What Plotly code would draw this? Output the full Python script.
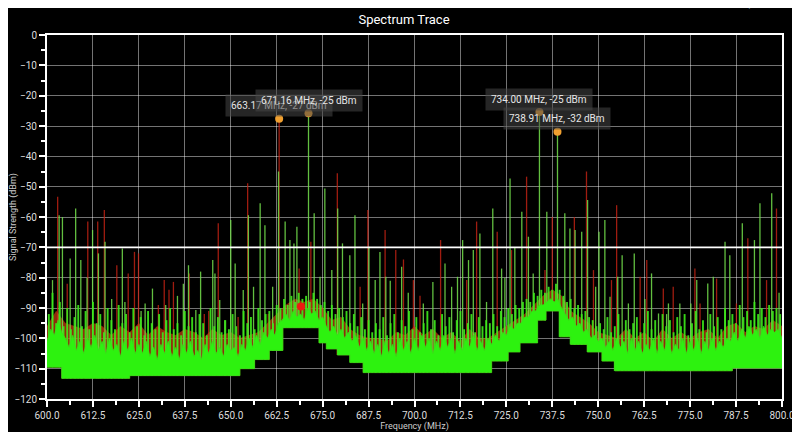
import numpy as np
import plotly.graph_objects as go

# ---------------- data ----------------
# stepped noise floor: edges (MHz) and level between consecutive edges (dBm)
floor_edges = [600.0, 604.0, 622.5, 652.5, 656.5, 660.5, 664.2, 674.0, 676.0, 679.0,
               682.5, 686.0, 721.0, 725.5, 728.7, 733.5, 735.8, 739.5, 742.5, 747.0,
               751.0, 754.5, 786.5, 800.0]
floor_levels = [-109.5, -113.2, -112.3, -110.0, -107.0, -104.0, -96.5, -101.5, -103.5,
                -105.5, -108.0, -111.3, -107.5, -104.5, -101.5, -94.0, -91.0, -99.5,
                -102.0, -104.5, -107.5, -110.7, -109.8]

# green (live) trace band top, 1 MHz steps 600..800
green_f = list(range(600, 801))
green_db = [
    -101, -97, -99, -94, -98, -100, -103, -99, -104, -101,      # 600-609
    -105, -100, -103, -99, -104, -101, -105, -100, -104, -102,  # 610-619
    -106, -101, -104, -100, -105, -102, -105, -101, -106, -103, # 620-629
    -107, -102, -105, -101, -106, -103, -107, -102, -105, -101, # 630-639
    -106, -104, -107, -102, -105, -101, -105, -103, -106, -102, # 640-649
    -104, -103, -106, -102, -104, -100, -103, -99, -102, -98,   # 650-659
    -100, -97, -99, -95, -94, -92, -94, -91, -93, -92,          # 660-669
    -94, -90, -92, -91, -94, -93, -96, -98, -96, -99,           # 670-679
    -97, -100, -98, -101, -99, -103, -100, -104, -101, -105,    # 680-689
    -102, -106, -101, -105, -102, -106, -100, -104, -101, -105, # 690-699
    -100, -104, -99, -103, -100, -105, -101, -104, -99, -103,   # 700-709
    -100, -105, -101, -104, -100, -103, -99, -104, -101, -104,  # 710-719
    -100, -102, -99, -101, -98, -99, -96, -97, -95, -95,        # 720-729
    -93, -93, -91, -91, -89, -89, -88, -87, -88, -87,           # 730-739
    -90, -92, -94, -93, -96, -95, -98, -97, -100, -99,          # 740-749
    -101, -100, -103, -101, -104, -100, -103, -101, -105, -100, # 750-759
    -104, -101, -105, -102, -104, -100, -105, -101, -104, -100, # 760-769
    -105, -102, -104, -100, -105, -101, -104, -100, -105, -101, # 770-779
    -104, -100, -104, -101, -103, -100, -101, -98, -101, -97,   # 780-789
    -100, -96, -99, -97, -100, -96, -99, -97, -98, -97,         # 790-799
    -100,                                                       # 800
]

# short "grass" peaks of the green trace, at 600.5, 601.5, ... 799.5 MHz
grass_f = [600.5 + i for i in range(200)]
grass_db = [
    -92, -85, -95, -88, -96, -90, -97, -93, -89, -96,   # 600.5-609.5
    -91, -97, -88, -95, -92, -98, -90, -94, -97, -89,   # 610.5-619.5
    -95, -92, -98, -90, -96, -93, -99, -91, -95, -97,   # 620.5-629.5
    -92, -98, -94, -90, -97, -95, -99, -91, -96, -93,   # 630.5-639.5
    -98, -92, -95, -99, -90, -96, -93, -98, -94, -97,   # 640.5-649.5
    -92, -96, -99, -91, -95, -93, -97, -90, -94, -92,   # 650.5-659.5
    -91, -95, -89, -90, -87, -89, -86, -88, -85, -87,   # 660.5-669.5
    -86, -88, -85, -87, -89, -88, -91, -89, -92, -90,   # 670.5-679.5
    -93, -91, -95, -92, -96, -93, -97, -94, -98, -95,   # 680.5-689.5
    -97, -93, -99, -95, -92, -98, -94, -96, -91, -97,   # 690.5-699.5
    -93, -98, -95, -91, -97, -94, -99, -92, -96, -93,   # 700.5-709.5
    -98, -94, -91, -97, -95, -92, -98, -93, -96, -94,   # 710.5-719.5
    -95, -92, -96, -91, -93, -90, -92, -89, -90, -88,   # 720.5-729.5
    -87, -88, -85, -86, -84, -85, -83, -84, -82, -84,   # 730.5-739.5
    -86, -88, -87, -90, -89, -92, -91, -93, -94, -96,   # 740.5-749.5
    -95, -97, -93, -98, -96, -92, -99, -94, -97, -95,   # 750.5-759.5
    -93, -98, -95, -91, -97, -94, -99, -92, -96, -94,   # 760.5-769.5
    -98, -93, -96, -92, -99, -95, -91, -97, -94, -98,   # 770.5-779.5
    -92, -96, -93, -97, -90, -94, -92, -95, -89, -93,   # 780.5-789.5
    -91, -94, -88, -92, -90, -93, -89, -91, -90, -92,   # 790.5-799.5
]

# red (max hold) band top, 2.5 MHz steps 600..800
red_f = [600 + 2.5 * i for i in range(81)]
red_db = [
    -96, -91, -95, -96, -97, -95, -96, -99, -96, -98,
    -95, -99, -96, -98, -99, -97, -98, -100, -97, -99,
    -98, -100, -99, -98, -95, -92, -89, -87, -88, -87,
    -90, -94, -93, -97, -99, -100, -100, -101, -98, -99,
    -96, -99, -97, -100, -98, -101, -97, -100, -100, -98,
    -96, -94, -92, -89, -86, -84, -86, -91, -93, -95,
    -98, -99, -100, -97, -100, -98, -101, -97, -100, -98,
    -100, -98, -97, -100, -96, -95, -98, -96, -97, -94,
    -96,
]

# tall spikes of the live (green) trace
gspike_f = [601.5, 603.3, 604.2, 606.3, 607.8, 609.2, 610.9, 612.4, 614.0, 615.8,
            617.6, 620.5, 621.2, 625.6, 626.7, 628.7, 632.3, 635.5, 637.1, 638.5,
            640.5, 641.8, 645.1, 645.7, 647.0, 648.4, 650.0, 651.2, 653.4, 654.8,
            656.2, 658.0, 659.3, 661.4, 663.0, 664.8, 666.1, 667.2, 668.0, 671.16,
            672.7, 674.3, 675.6, 677.5, 679.1, 680.4, 682.4, 683.8, 685.9, 687.6,
            689.3, 690.6, 692.2, 693.4, 696.5, 698.3, 702.4, 705.0, 708.3, 710.1,
            711.7, 713.1, 714.7, 716.0, 717.8, 719.6, 721.3, 723.7, 724.6, 726.0,
            727.3, 729.2, 731.0, 732.3, 734.0, 736.0, 738.91, 740.9, 742.3, 743.7,
            745.5, 747.1, 749.3, 750.2, 751.8, 753.2, 755.3, 756.5, 758.2, 759.8,
            762.7, 764.5, 766.4, 768.6, 769.1, 772.2, 775.2, 776.8, 779.8, 781.3,
            784.5, 785.8, 789.2, 792.5, 794.0, 797.2, 799.2]
gspike_db = [-80.8, -59.4, -60.0, -73.7, -57.2, -74.2, -80.0, -64.3, -72.0, -68.2,
             -87.0, -70.4, -88.0, -91.0, -88.5, -83.6, -89.0, -86.0, -82.0, -75.9,
             -90.7, -78.0, -74.2, -78.6, -87.4, -94.0, -61.0, -75.3, -84.1, -59.4,
             -83.0, -55.5, -62.7, -83.0, -45.0, -61.5, -67.6, -68.7, -63.2, -25.4,
             -58.8, -79.7, -50.6, -77.5, -57.2, -68.7, -72.6, -59.4, -88.5, -69.8,
             -80.8, -71.5, -79.7, -81.0, -76.4, -85.0, -88.5, -81.4, -75.3, -83.0,
             -79.7, -67.6, -74.2, -70.9, -65.4, -88.0, -57.2, -77.0, -80.0, -47.3,
             -70.0, -58.3, -66.5, -78.6, -25.3, -58.3, -31.9, -58.8, -63.8, -64.3,
             -64.9, -54.4, -83.0, -64.9, -61.0, -86.3, -79.7, -72.6, -88.5, -72.0,
             -87.0, -78.6, -91.8, -92.0, -88.5, -88.5, -88.5, -80.8, -81.9, -79.7,
             -68.2, -72.6, -62.1, -67.6, -55.5, -52.2, -85.0]

# tall spikes of the max-hold (red) trace
rspike_f = [602.9, 605.5, 611.1, 613.8, 615.6, 619.0, 622.1, 623.8, 624.9, 630.3,
            631.9, 633.2, 634.4, 638.7, 642.8, 644.0, 646.6, 652.0, 654.6, 660.2,
            663.17, 668.6, 671.8, 679.0, 685.2, 687.3, 692.0, 694.9, 697.0, 699.7,
            701.5, 707.1, 714.2, 716.9, 722.5, 726.4, 730.5, 735.5, 737.5, 743.5,
            746.8, 748.7, 753.6, 755.0, 761.4, 763.2, 767.7, 770.4, 776.3, 777.7,
            782.2, 787.6, 790.7, 795.8, 798.5]
rspike_db = [-53.3, -82.0, -61.5, -61.5, -57.7, -75.9, -78.6, -71.5, -72.0, -89.0,
             -80.8, -84.0, -81.4, -78.6, -92.0, -91.0, -62.1, -93.0, -48.9, -92.0,
             -27.4, -77.0, -68.2, -45.6, -83.0, -57.7, -64.3, -70.9, -74.0, -80.8,
             -86.0, -67.6, -80.8, -61.5, -64.9, -70.9, -46.7, -77.5, -60.0, -60.0,
             -45.0, -77.5, -80.8, -56.1, -79.7, -74.2, -83.6, -83.0, -77.0, -88.5,
             -80.3, -88.5, -67.0, -80.8, -57.2]

red_dot_f = [669.1]
red_dot_db = [-89.5]

threshold_db = -70

# peak markers
marker_f = [663.17, 671.16, 734.00, 738.91]
marker_db = [-27.6, -25.8, -25.4, -31.9]
marker_text = ["663.17 MHz, -27 dBm", "671.16 MHz, -25 dBm",
               "734.00 MHz, -25 dBm", "738.91 MHz, -32 dBm"]
readout_text = "734.00 MHz, -25 dBm"

x_ticks = [600 + 12.5 * i for i in range(17)]
y_ticks = list(range(-120, 1, 10))

# ---------------- helpers ----------------
edges = np.array(floor_edges)
levels = np.array(floor_levels)


def floor_at(f):
    i = np.clip(np.searchsorted(edges, f, side="right") - 1, 0, len(levels) - 1)
    return levels[i]


floor_x, floor_y = [], []
for i, lv in enumerate(floor_levels):
    floor_x += [floor_edges[i], floor_edges[i + 1]]
    floor_y += [lv, lv]
floor_x_rev = floor_x[::-1]
floor_y_rev = floor_y[::-1]


def spikes(fs, dbs):
    xs, ys = [], []
    for f, d in zip(fs, dbs):
        xs += [f, f, None]
        ys += [float(floor_at(f)), d, None]
    return xs, ys


FONT = "Roboto, Arial, sans-serif"
fig = go.Figure()

rx, ry = spikes(rspike_f, rspike_db)
fig.add_trace(go.Scatter(x=rx, y=ry, mode="lines",
                         line=dict(color="rgba(200,35,20,0.8)", width=1.3),
                         hoverinfo="skip"))
fig.add_trace(go.Scatter(x=list(red_f) + floor_x_rev, y=list(red_db) + floor_y_rev,
                         mode="lines", fill="toself",
                         fillcolor="rgba(200,60,15,0.72)",
                         line=dict(color="rgba(200,60,15,0.5)", width=0.5),
                         hoverinfo="skip"))
gx, gy = spikes(gspike_f, gspike_db)
fig.add_trace(go.Scatter(x=gx, y=gy, mode="lines",
                         line=dict(color="rgba(115,225,75,0.85)", width=1.3),
                         hoverinfo="skip"))
sx, sy = spikes(grass_f, grass_db)
fig.add_trace(go.Scatter(x=sx, y=sy, mode="lines",
                         line=dict(color="rgba(60,235,25,0.9)", width=1.9),
                         hoverinfo="skip"))
fig.add_trace(go.Scatter(x=green_f + floor_x_rev, y=green_db + floor_y_rev,
                         mode="lines", fill="toself",
                         fillcolor="rgba(45,242,15,1)",
                         line=dict(color="rgba(55,225,25,1)", width=0.8),
                         hoverinfo="skip"))
fig.add_trace(go.Scatter(x=red_dot_f, y=red_dot_db, mode="markers",
                         marker=dict(color="#ee1a10", size=8), hoverinfo="skip"))
fig.add_trace(go.Scatter(x=marker_f, y=marker_db, mode="markers",
                         marker=dict(color="#f0a030", size=8), hoverinfo="skip"))

fig.add_hline(y=threshold_db, line=dict(color="white", width=1.6), layer="above")

for f, d, t in zip(marker_f, marker_db, marker_text):
    fig.add_annotation(x=f, y=d, text=t, showarrow=False, yshift=13,
                       xanchor="center", yanchor="middle",
                       font=dict(family=FONT, size=10, color="#e6e6e6"),
                       bgcolor="rgba(70,70,70,0.55)", borderpad=5)

# readout in the top-right corner (partly above the page, as in the reference)
fig.add_annotation(xref="paper", yref="paper", x=1.017, y=1.086, text=readout_text,
                   showarrow=False, xanchor="right", yanchor="middle",
                   font=dict(family=FONT, size=10.5, color="#9fd2f2"))

axis_common = dict(
    showline=True, linecolor="white", linewidth=2, mirror=True,
    showgrid=True, gridcolor="rgba(255,255,255,0.45)", gridwidth=1,
    zeroline=False, ticks="outside", ticklen=6, tickcolor="white", tickwidth=1.5,
    automargin=False,
    tickfont=dict(family=FONT, size=10, color="#dddddd"),
)

# the page body adds an 8 px offset, so the figure is 8 px smaller and the
# top/left margins are reduced accordingly to land the plot area at 47..782 x 35..399
fig.update_layout(
    width=792, height=424,
    paper_bgcolor="black", plot_bgcolor="black",
    margin=dict(l=39, r=18, t=27, b=33, autoexpand=False),
    showlegend=False,
    title=dict(text="Spectrum Trace", x=0.5, xanchor="center", y=0.974, yanchor="middle",
               font=dict(family=FONT, size=13, color="white")),
    xaxis=dict(range=[600, 800], tickvals=x_ticks,
               ticktext=[f"{v:.1f}" for v in x_ticks],
               minor=dict(dtick=6.25, tick0=600, ticks="outside", ticklen=4,
                          tickcolor="white", showgrid=False),
               title=dict(text="Frequency (MHz)", standoff=5,
                          font=dict(family=FONT, size=9, color="#cccccc")),
               **axis_common),
    yaxis=dict(range=[-120, 0], tickvals=y_ticks,
               minor=dict(dtick=5, tick0=0, ticks="outside", ticklen=4,
                          tickcolor="white", showgrid=False),
               title=dict(text="Signal Strength (dBm)", standoff=4,
                          font=dict(family=FONT, size=9, color="#cccccc")),
               **axis_common),
)

fig.write_html("out.html")
